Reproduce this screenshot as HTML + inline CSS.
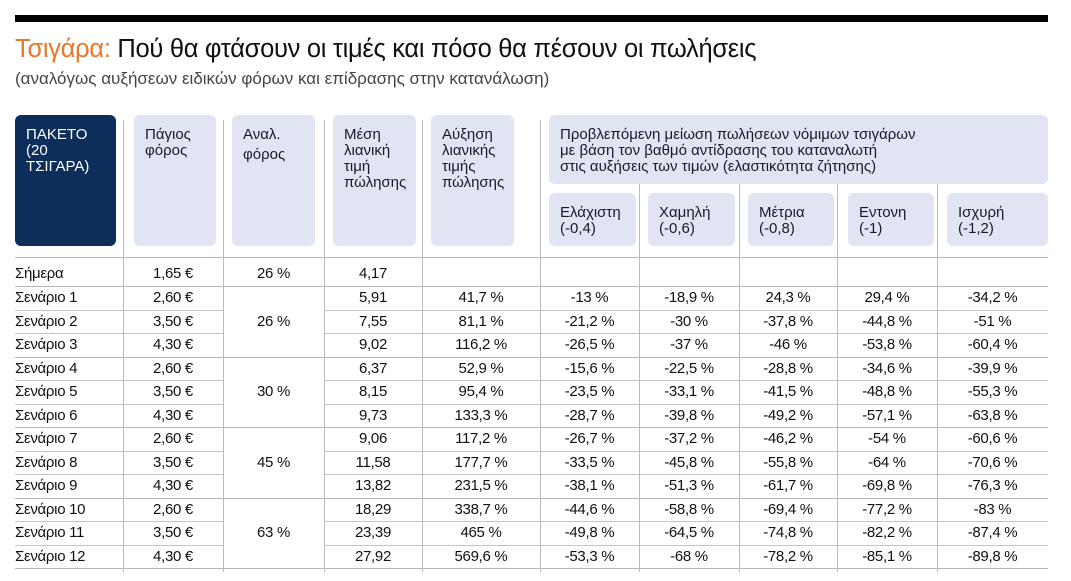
<!DOCTYPE html>
<html><head><meta charset="utf-8">
<style>
*{margin:0;padding:0;box-sizing:border-box}
body{width:1071px;height:581px;background:#fff;position:relative;overflow:hidden;font-family:"Liberation Sans","DejaVu Sans",sans-serif;color:#111}
.a{position:absolute}
.hb{position:absolute;z-index:2;background:#e1e4f2;border-radius:6px;font-size:15px;line-height:16px;padding:12px 0 0 11px;color:#1a1a2a;white-space:nowrap}
.vl{position:absolute;width:1px;background:#bbb;top:120px;height:452px;z-index:1}
.hl{position:absolute;height:1px;background:#c6c6c6}
.c{position:absolute;font-size:15px;text-align:center;height:20px;line-height:20px;letter-spacing:-0.3px}
</style></head><body>
<div class="a" style="left:15px;top:15px;width:1033px;height:7px;background:#000"></div>
<div class="a" style="left:15px;top:34px;font-size:25.5px;line-height:30px;white-space:nowrap;letter-spacing:-0.3px"><span style="color:#e8782a">Τσιγάρα:</span> Πού θα φτάσουν οι τιμές και πόσο θα πέσουν οι πωλήσεις</div>
<div class="a" style="left:15px;top:69px;font-size:17px;color:#444;white-space:nowrap">(αναλόγως αυξήσεων ειδικών φόρων και επίδρασης στην κατανάλωση)</div>

<div class="hb" style="left:15px;top:115px;width:101px;height:131px;background:#0d2d5a;color:#fff">ΠΑΚΕΤΟ<br>(20<br>ΤΣΙΓΑΡΑ)</div>
<div class="hb" style="left:134px;top:115px;width:82px;height:131px">Πάγιος<br>φόρος</div>
<div class="hb" style="left:232px;top:115px;width:83px;height:131px">Αναλ.<br><span style="line-height:24px">φόρος</span></div>
<div class="hb" style="left:333px;top:115px;width:83px;height:131px">Μέση<br>λιανική<br>τιμή<br>πώλησης</div>
<div class="hb" style="left:431px;top:115px;width:83px;height:131px">Αύξηση<br>λιανικής<br>τιμής<br>πώλησης</div>
<div class="hb" style="left:549px;top:115px;width:499px;height:69px">Προβλεπόμενη μείωση πωλήσεων νόμιμων τσιγάρων<br>με βάση τον βαθμό αντίδρασης του καταναλωτή<br>στις αυξήσεις των τιμών (ελαστικότητα ζήτησης)</div>
<div class="hb" style="left:549px;top:193px;width:87px;height:53px">Ελάχιστη<br>(-0,4)</div>
<div class="hb" style="left:648px;top:193px;width:87px;height:53px">Χαμηλή<br>(-0,6)</div>
<div class="hb" style="left:748px;top:193px;width:86px;height:53px">Μέτρια<br>(-0,8)</div>
<div class="hb" style="left:848px;top:193px;width:86px;height:53px">Εντονη<br>(-1)</div>
<div class="hb" style="left:947px;top:193px;width:101px;height:53px">Ισχυρή<br>(-1,2)</div>

<div id="grid"></div>
<script>
const rowLabels=["Σήμερα","Σενάριο 1","Σενάριο 2","Σενάριο 3","Σενάριο 4","Σενάριο 5","Σενάριο 6","Σενάριο 7","Σενάριο 8","Σενάριο 9","Σενάριο 10","Σενάριο 11","Σενάριο 12"];
const fixedTax=["1,65 €","2,60 €","3,50 €","4,30 €","2,60 €","3,50 €","4,30 €","2,60 €","3,50 €","4,30 €","2,60 €","3,50 €","4,30 €"];
const adValorem=["26 %","26 %","30 %","45 %","63 %"];
const avgPrice=["4,17","5,91","7,55","9,02","6,37","8,15","9,73","9,06","11,58","13,82","18,29","23,39","27,92"];
const priceIncrease=["","41,7 %","81,1 %","116,2 %","52,9 %","95,4 %","133,3 %","117,2 %","177,7 %","231,5 %","338,7 %","465 %","569,6 %"];
const elMin=["","-13 %","-21,2 %","-26,5 %","-15,6 %","-23,5 %","-28,7 %","-26,7 %","-33,5 %","-38,1 %","-44,6 %","-49,8 %","-53,3 %"];
const elLow=["","-18,9 %","-30 %","-37 %","-22,5 %","-33,1 %","-39,8 %","-37,2 %","-45,8 %","-51,3 %","-58,8 %","-64,5 %","-68 %"];
const elMed=["","24,3 %","-37,8 %","-46 %","-28,8 %","-41,5 %","-49,2 %","-46,2 %","-55,8 %","-61,7 %","-69,4 %","-74,8 %","-78,2 %"];
const elStrong=["","29,4 %","-44,8 %","-53,8 %","-34,6 %","-48,8 %","-57,1 %","-54 %","-64 %","-69,8 %","-77,2 %","-82,2 %","-85,1 %"];
const elVery=["","-34,2 %","-51 %","-60,4 %","-39,9 %","-55,3 %","-63,8 %","-60,6 %","-70,6 %","-76,3 %","-83 %","-87,4 %","-89,8 %"];

const g=document.getElementById('grid');
const colX=[15,123,223,324,422,540,639,739,837,937,1048];
function rowCenter(i){return i===0?274:298+(i-1)*23.5;}
function rowTop(i){return i===0?257:286+(i-1)*23.5;}
for(let k=1;k<colX.length-1;k++){
  const v=document.createElement('div');v.className='vl';v.style.left=colX[k]+'px';
  
  
  g.appendChild(v);
}
for(let i=0;i<=13;i++){
  const y=i===13?rowTop(12)+23.5:rowTop(i);
  const group=(i===0||i===1||i===4||i===7||i===10||i===13);
  const segs=group?[[15,1048]]:[[15,223],[324,1048]];
  segs.forEach(s=>{
    const h=document.createElement('div');h.className='hl';
    h.style.left=s[0]+'px';h.style.width=(s[1]-s[0])+'px';h.style.top=Math.round(y)+'px';
    if(group)h.style.background='#b5b5b5';
    
    
    g.appendChild(h);
  });
}
function cell(txt,col,cy,name,left){
  const d=document.createElement('div');d.className='c';d.textContent=txt;
  d.style.top=Math.round(cy-10)+'px';
  if(left){d.style.left='15px';d.style.textAlign='left';d.style.width='108px';}
  else{d.style.left=colX[col]+'px';d.style.width=(colX[col+1]-colX[col])+'px';}
  
  
  g.appendChild(d);
}
const cols=[fixedTax,null,avgPrice,priceIncrease,elMin,elLow,elMed,elStrong,elVery];
const names=['fixed-tax-cell',null,'avg-price-cell','price-increase-cell','elasticity-minimal-cell','elasticity-low-cell','elasticity-medium-cell','elasticity-strong-cell','elasticity-very-strong-cell'];
for(let i=0;i<rowLabels.length;i++){
  const cy=rowCenter(i);
  cell(rowLabels[i],0,cy,'row-label',true);
  cols.forEach((arr,j)=>{ if(arr&&arr[i]!=="") cell(arr[i],j+1,cy,names[j]); });
}
for(let k=0;k<adValorem.length;k++){
  const cy=k===0?rowCenter(0):rowCenter(k*3-1);
  cell(adValorem[k],2,cy,'ad-valorem-cell');
}
</script>
</body></html>
